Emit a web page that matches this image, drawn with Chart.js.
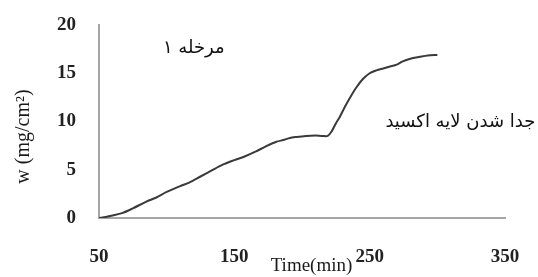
<!DOCTYPE html>
<html>
<head>
<meta charset="utf-8">
<script src="https://cdn.jsdelivr.net/npm/chart.js@4"></script>
<style>
  html, body { margin: 0; padding: 0; background: #fff; }
  #wrap { width: 538px; height: 277px; }
</style>
</head>
<body>
<div id="wrap"><canvas id="chart"></canvas></div>
<script>
// time (min) and weight gain w (mg/cm2)
const times = [50, 55, 60, 67, 75, 85, 92, 100, 110, 117, 125, 133, 141, 150, 158, 166, 173, 181, 187, 191, 196, 203, 210, 215, 219, 222, 225, 228, 232, 236, 240, 245, 250, 255, 260, 265, 270, 274, 280, 287, 293, 300];
const weights = [0, 0.1, 0.25, 0.5, 1.0, 1.7, 2.1, 2.7, 3.3, 3.7, 4.3, 4.9, 5.5, 6.0, 6.4, 6.9, 7.4, 7.9, 8.1, 8.3, 8.4, 8.5, 8.55, 8.5, 8.5, 9.0, 9.8, 10.5, 11.6, 12.6, 13.5, 14.4, 15.0, 15.3, 15.5, 15.7, 15.9, 16.2, 16.5, 16.7, 16.85, 16.9];
const xTicks = [50, 150, 250, 350];
const yTicks = [0, 5, 10, 15, 20];

const stage1Label = 'مرخله ۱';
const oxideLabel = 'جدا شدن لایه اکسید';

// Persian notes written inside the plot
const notesPlugin = {
  id: 'notes',
  afterDraw(chart) {
    const ctx = chart.ctx;
    const xs = chart.scales.x;
    const ys = chart.scales.y;
    ctx.save();
    ctx.fillStyle = '#111';
    ctx.font = '18px "DejaVu Sans", sans-serif';
    ctx.textAlign = 'center';
    ctx.textBaseline = 'middle';
    ctx.direction = 'rtl';
    ctx.fillText(stage1Label, xs.getPixelForValue(120), ys.getPixelForValue(17.6));
    ctx.fillText(oxideLabel, xs.getPixelForValue(317), ys.getPixelForValue(9.9));
    ctx.restore();
  }
};

new Chart(document.getElementById('chart'), {
  type: 'line',
  data: {
    datasets: [{
      data: times.map((t, i) => ({ x: t, y: weights[i] })),
      borderColor: '#3a3a3a',
      borderWidth: 2,
      pointRadius: 0,
      tension: 0.3,
      fill: false
    }]
  },
  options: {
    responsive: true,
    maintainAspectRatio: false,
    animation: false,
    layout: { padding: { top: 25, right: 33, left: 0, bottom: 0 } },
    plugins: { legend: { display: false }, tooltip: { enabled: false } },
    scales: {
      x: {
        type: 'linear',
        min: xTicks[0],
        max: xTicks[xTicks.length - 1],
        afterFit(scale) {
          scale.height = 59;
          scale.paddingLeft = 0;
          scale.paddingRight = 0;
        },
        afterBuildTicks(scale) { scale.ticks = xTicks.map(v => ({ value: v })); },
        grid: { display: false, drawTicks: false },
        border: { display: true, color: '#a6a6a6', width: 2 },
        ticks: {
          padding: 28,
          color: '#222',
          font: { family: '"Liberation Serif", serif', size: 19, weight: 'bold' }
        },
        title: {
          display: true,
          // leading spaces nudge the title a little right, as in the original
          text: '    Time(min)',
          color: '#1a1a1a',
          padding: 0,
          font: { family: '"Liberation Serif", serif', size: 19 }
        }
      },
      y: {
        min: yTicks[0],
        max: yTicks[yTicks.length - 1],
        afterFit(scale) {
          scale.width = 99;
          scale.paddingTop = 0;
          scale.paddingBottom = 0;
        },
        afterBuildTicks(scale) { scale.ticks = yTicks.map(v => ({ value: v })); },
        grid: { display: false, drawTicks: false },
        border: { display: true, color: '#a6a6a6', width: 2 },
        ticks: {
          padding: 23,
          color: '#222',
          font: { family: '"Liberation Serif", serif', size: 19, weight: 'bold' }
        },
        title: {
          display: true,
          // trailing spaces push the rotated title down a bit
          text: 'w (mg/cm²)      ',
          color: '#1a1a1a',
          padding: { top: 12, bottom: 0 },
          font: { family: '"Liberation Serif", serif', size: 20 }
        }
      }
    }
  },
  plugins: [notesPlugin]
});
</script>
</body>
</html>
